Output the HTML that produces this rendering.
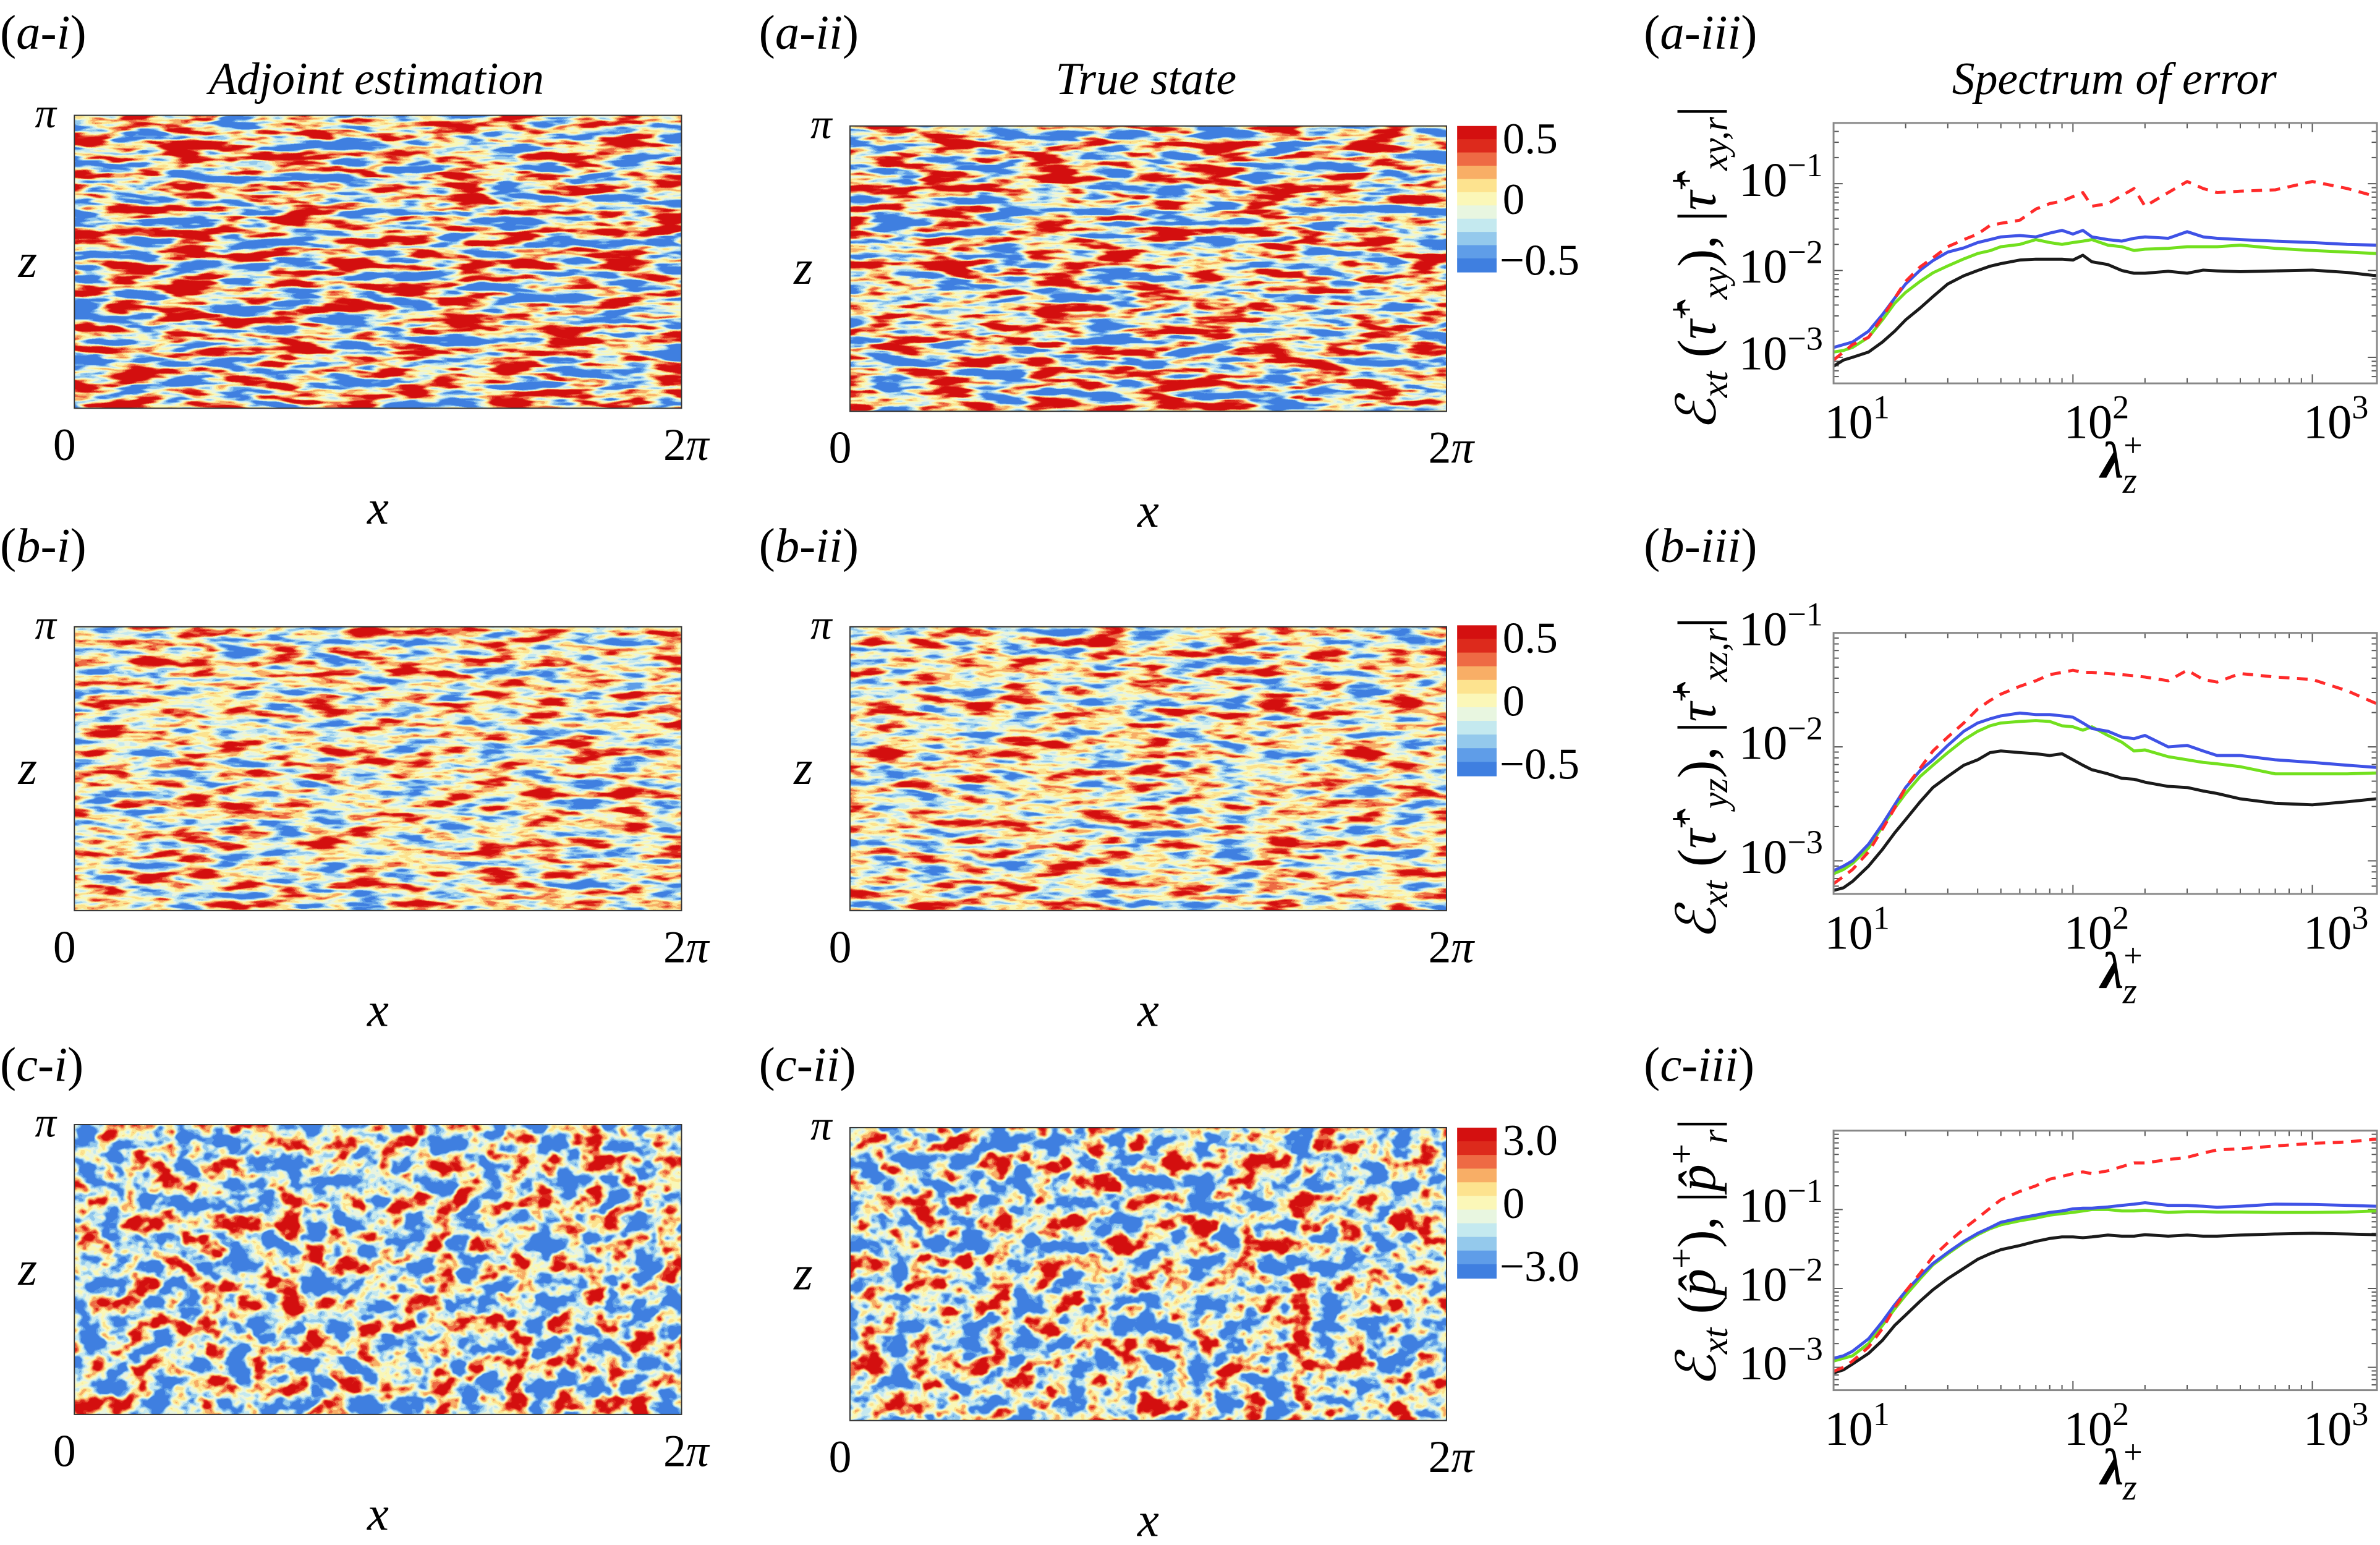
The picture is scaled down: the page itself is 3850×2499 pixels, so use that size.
<!DOCTYPE html>
<html><head><meta charset="utf-8"><style>
html,body{margin:0;padding:0;background:#fff;}
svg{display:block;}
svg text{font-family:"Liberation Serif","DejaVu Serif",serif;fill:#000;}
</style></head><body>
<svg id="fig" xmlns="http://www.w3.org/2000/svg" width="3850" height="2499" viewBox="0 0 1568 1018" preserveAspectRatio="none" font-family="Liberation Serif, serif">
<defs>
<filter id="fA" x="0" y="0" width="1" height="1" color-interpolation-filters="sRGB">
<feTurbulence type="fractalNoise" baseFrequency="0.028 0.14" numOctaves="3" seed="7"/>
<feColorMatrix type="matrix" values="3.2 0 0 0 -1.1  3.2 0 0 0 -1.1  3.2 0 0 0 -1.1  0 0 0 0 1"/>
<feComponentTransfer>
<feFuncR type="discrete" tableValues="0.25 0.37 0.58 0.77 0.91 0.98 0.99 0.97 0.93 0.87 0.83"/>
<feFuncG type="discrete" tableValues="0.50 0.62 0.79 0.91 0.96 0.97 0.89 0.68 0.42 0.16 0.06"/>
<feFuncB type="discrete" tableValues="0.88 0.91 0.93 0.94 0.88 0.72 0.56 0.40 0.27 0.11 0.06"/>
</feComponentTransfer></filter>
<filter id="fB" x="0" y="0" width="1" height="1" color-interpolation-filters="sRGB">
<feTurbulence type="fractalNoise" baseFrequency="0.035 0.15" numOctaves="3" seed="21"/>
<feColorMatrix type="matrix" values="2.1 0 0 0 -0.55  2.1 0 0 0 -0.55  2.1 0 0 0 -0.55  0 0 0 0 1"/>
<feComponentTransfer>
<feFuncR type="discrete" tableValues="0.25 0.37 0.58 0.77 0.91 0.98 0.99 0.97 0.93 0.87 0.83"/>
<feFuncG type="discrete" tableValues="0.50 0.62 0.79 0.91 0.96 0.97 0.89 0.68 0.42 0.16 0.06"/>
<feFuncB type="discrete" tableValues="0.88 0.91 0.93 0.94 0.88 0.72 0.56 0.40 0.27 0.11 0.06"/>
</feComponentTransfer></filter>
<filter id="fC" x="0" y="0" width="1" height="1" color-interpolation-filters="sRGB">
<feTurbulence type="fractalNoise" baseFrequency="0.06 0.075" numOctaves="3" seed="42"/>
<feColorMatrix type="matrix" values="2.7 0 0 0 -0.95  2.7 0 0 0 -0.95  2.7 0 0 0 -0.95  0 0 0 0 1"/>
<feComponentTransfer>
<feFuncR type="discrete" tableValues="0.25 0.37 0.58 0.77 0.91 0.98 0.99 0.97 0.93 0.87 0.83"/>
<feFuncG type="discrete" tableValues="0.50 0.62 0.79 0.91 0.96 0.97 0.89 0.68 0.42 0.16 0.06"/>
<feFuncB type="discrete" tableValues="0.88 0.91 0.93 0.94 0.88 0.72 0.56 0.40 0.27 0.11 0.06"/>
</feComponentTransfer></filter>
</defs>
<g id="fields"></g>
<g id="lines"></g>
</svg>
<script>
// ---- chart data ----
const lambdas = [10,11,12,14,16,18,20,23,26,30,35,40,45,50,60,70,80,90,100,110,120,140,160,180,200,250,300,350,400,500,700,1000,1400,1850];
const xTickLabels = ["1","2","3"];
const yTickExpA = ["\u22121","\u22122","\u22123"];
const yTickExpC = ["\u22121","\u22122","\u22123"];
const aBlack = [0.00079,0.00093,0.001,0.00115,0.0015,0.002,0.0027,0.0037,0.005,0.007,0.0087,0.010,0.0112,0.012,0.0132,0.0135,0.0135,0.0135,0.0132,0.015,0.0126,0.0117,0.010,0.0093,0.0093,0.0098,0.0093,0.0101,0.0099,0.0097,0.0099,0.0101,0.0095,0.0087];
const aGreen = [0.00115,0.0012,0.0013,0.0017,0.0027,0.0042,0.0056,0.0075,0.0094,0.0113,0.0136,0.0157,0.0169,0.0188,0.02,0.0227,0.021,0.02,0.021,0.0218,0.0227,0.0196,0.0188,0.017,0.0176,0.018,0.0188,0.0188,0.0188,0.0196,0.018,0.017,0.0163,0.0157];
const aBlue = [0.0013,0.0014,0.0015,0.002,0.0031,0.0048,0.007,0.0101,0.013,0.0163,0.0182,0.021,0.0227,0.0244,0.0253,0.0244,0.027,0.029,0.0263,0.029,0.0244,0.0227,0.0218,0.0235,0.0244,0.0235,0.028,0.0244,0.0235,0.0227,0.0218,0.021,0.02,0.0196];
const aRed = [0.00093,0.00115,0.0014,0.0017,0.0029,0.0048,0.0075,0.011,0.014,0.0188,0.0227,0.0263,0.033,0.035,0.038,0.051,0.059,0.063,0.071,0.079,0.055,0.059,0.073,0.088,0.055,0.079,0.106,0.088,0.079,0.082,0.085,0.106,0.088,0.071];
const bBlack = [0.00055,0.00058,0.00066,0.0009,0.00126,0.00176,0.0023,0.0033,0.0044,0.0055,0.0069,0.0077,0.0089,0.0092,0.0089,0.0087,0.0084,0.0087,0.0077,0.0069,0.0063,0.0058,0.0053,0.0052,0.0049,0.0045,0.0044,0.0041,0.0039,0.0035,0.0032,0.0031,0.0033,0.0035];
const bGreen = [0.00077,0.00084,0.00095,0.0013,0.002,0.0029,0.0039,0.0055,0.0069,0.0089,0.0115,0.0137,0.0153,0.0162,0.0167,0.017,0.0167,0.0153,0.015,0.014,0.015,0.0126,0.011,0.0092,0.0094,0.0082,0.0077,0.0073,0.0071,0.0067,0.0058,0.0058,0.0058,0.0059];
const bBlue = [0.00082,0.0009,0.001,0.0014,0.0021,0.0031,0.0044,0.0062,0.0077,0.0103,0.0137,0.0162,0.0176,0.0187,0.0198,0.0192,0.0192,0.0187,0.0182,0.0162,0.0145,0.0137,0.0122,0.0118,0.0126,0.01,0.0103,0.0092,0.0084,0.0084,0.0077,0.0073,0.0069,0.0066];
const bRed = [0.00063,0.00073,0.00084,0.0012,0.0019,0.0029,0.0044,0.0065,0.0092,0.0122,0.0162,0.0215,0.0255,0.029,0.034,0.038,0.043,0.045,0.047,0.045,0.045,0.044,0.043,0.042,0.041,0.038,0.047,0.039,0.037,0.044,0.041,0.039,0.031,0.024];
const cBlack = [0.00085,0.00093,0.0011,0.0015,0.0022,0.0034,0.0046,0.0069,0.0096,0.0133,0.018,0.0234,0.0275,0.031,0.035,0.0395,0.043,0.045,0.045,0.044,0.045,0.0475,0.046,0.046,0.048,0.046,0.0475,0.046,0.046,0.0475,0.049,0.050,0.049,0.048];
const cGreen = [0.0012,0.0013,0.0014,0.002,0.0034,0.0055,0.0082,0.0133,0.0199,0.0275,0.038,0.048,0.057,0.064,0.072,0.078,0.085,0.089,0.092,0.096,0.1,0.1,0.096,0.096,0.098,0.092,0.094,0.094,0.093,0.093,0.092,0.092,0.093,0.096];
const cBlue = [0.0013,0.0014,0.0016,0.0023,0.0038,0.0062,0.0092,0.0144,0.0207,0.0286,0.0395,0.05,0.059,0.069,0.078,0.085,0.092,0.096,0.102,0.104,0.104,0.108,0.113,0.117,0.122,0.113,0.113,0.11,0.107,0.11,0.117,0.116,0.113,0.11];
const cRed = [0.00089,0.001,0.0012,0.0018,0.0031,0.0057,0.0092,0.0156,0.0253,0.038,0.057,0.078,0.104,0.133,0.17,0.2,0.243,0.263,0.285,0.3,0.285,0.31,0.35,0.39,0.39,0.43,0.46,0.52,0.57,0.59,0.64,0.69,0.72,0.78];

const NS = "http://www.w3.org/2000/svg";
const svg = document.getElementById('fig');
const F = document.getElementById('fields');
const L = document.getElementById('lines');
function mk(tag, attrs, parent){ const e=document.createElementNS(NS,tag); for(const k in attrs) e.setAttribute(k,attrs[k]); (parent||svg).appendChild(e); return e; }
function txt(parent, x, y, s, size, italic, anchor){ const t=mk('text',{x:x,y:y,'font-size':size,'text-anchor':anchor||'start'},parent); if(italic) t.setAttribute('font-style','italic'); t.textContent=s; return t; }

// ---- field panels ----
const rows = [
 {tag:'a', filt:'fA', y0:[76,83], y1:[269,271], cb:['0.5','0','\u22120.5'], cbY:[83,179]},
 {tag:'b', filt:'fB', y0:[413,413], y1:[600,600], cb:['0.5','0','\u22120.5'], cbY:[412,511]},
 {tag:'c', filt:'fC', y0:[741,743], y1:[932,936], cb:['3.0','0','\u22123.0'], cbY:[743,842]}
];
const cols = [{x0:49,x1:449,lab:'i'},{x0:560,x1:953,lab:'ii'}];
const cbColors = ['#d41010','#dd2a1c','#ee6a44','#f8ae66','#fde38f','#fbf7b8','#e8f6e0','#c4e9ef','#94c9ec','#5f9de8','#3f7fe0'];
rows.forEach((r,ri)=>{
  cols.forEach((c,ci)=>{
    const g = mk('g',{},F);
    
    
    const y0=r.y0[ci], y1=r.y1[ci];
    const rect = mk('rect',{x:c.x0,y:y0,width:c.x1-c.x0,height:y1-y0,filter:'url(#'+r.filt+')',fill:'#fff'},g);
    
    
    mk('rect',{x:c.x0,y:y0,width:c.x1-c.x0,height:y1-y0,fill:'none',stroke:'#333','stroke-width':0.8},g);
    const pl = txt(g, c.x0-26, y0+8, '\u03c0', 28, true);
     
    const zl = txt(g, c.x0-37, (y0+y1)/2+10, 'z', 32, true);
     
    const z0 = txt(g, c.x0-14, y1+34, '0', 30);
     
    const x2 = txt(g, c.x1-12, y1+34, '2', 30);
    const pi2 = mk('tspan',{'font-style':'italic'},x2); pi2.textContent='\u03c0';
     
    const xl = txt(g, (c.x0+c.x1)/2, y1+76, 'x', 32, true, 'middle');
     
  });
  const cg = mk('g',{},F);
  
  
  const cx=960, cw=26, ct=r.cbY[0], cbh=r.cbY[1]-r.cbY[0];
  cbColors.forEach((col,i)=>{
    mk('rect',{x:cx,y:ct+i*cbh/cbColors.length,width:cw,height:cbh/cbColors.length+0.5,fill:col},cg);
  });
  const l1=txt(cg, cx+30, ct+18, r.cb[0], 29);  
  const l2=txt(cg, cx+30, ct+cbh/2+10, r.cb[1], 29);  
  const l3=txt(cg, cx+28, ct+cbh+2, r.cb[2], 29);  
});

const panelLabels = [['(a-i)',0,32],['(a-ii)',500,32],['(a-iii)',1083,32],['(b-i)',0,370],['(b-ii)',500,370],['(b-iii)',1083,370],['(c-i)',0,712],['(c-ii)',500,712],['(c-iii)',1083,712]];
panelLabels.forEach(p=>{
  const t = mk('text',{x:p[1],y:p[2],'font-size':32},svg);
  
  
  const a=mk('tspan',{},t); a.textContent='(';
  const b=mk('tspan',{'font-style':'italic'},t); b.textContent=p[0].slice(1,-1);
  const c=mk('tspan',{},t); c.textContent=')';
});
[['Adjoint estimation',248,62],['True state',755,62],['Spectrum of error',1393,62]].forEach(p=>{
  const t=txt(svg,p[1],p[2],p[0],30,true,'middle');
  
  
});

// ---- spectra ----
const specs = [
 {tag:'a', top:81, bot:252.6, ymin:-3.30, ymax:-0.30, series:[aBlack,aGreen,aBlue,aRed], ylab:['xy','xy,r']},
 {tag:'b', top:417, bot:589, ymin:-3.29, ymax:-1.0, series:[bBlack,bGreen,bBlue,bRed], ylab:['yz','xz,r']},
 {tag:'c', top:745, bot:916, ymin:-3.29, ymax:0.0, series:[cBlack,cGreen,cBlue,cRed], ylab:null}
];
const seriesStyle = [
 {name:'series-black', stroke:'#1a1a1a', dash:null},
 {name:'series-green', stroke:'#72e01e', dash:null},
 {name:'series-blue', stroke:'#3f52e6', dash:null},
 {name:'series-red-dashed', stroke:'#ff2a2a', dash:'7 5'}
];
const X0=1208, X1=1566, LX0=1, LX1=3.27;
function xS(l){ return X0 + (Math.log10(l)-LX0)/(LX1-LX0)*(X1-X0); }
specs.forEach(s=>{
  const g = mk('g',{},L);
  
  
  const yS = v => s.bot - (Math.log10(v)-s.ymin)/(s.ymax-s.ymin)*(s.bot-s.top);
  for(let d=1; d<=3; d++){
    for(let m=1; m<=9; m++){
      const l=m*Math.pow(10,d); if(Math.log10(l)>LX1) break;
      const x=xS(l), len = m===1?6:3.5;
      mk('line',{x1:x,y1:s.bot,x2:x,y2:s.bot-len,stroke:'#555','stroke-width':0.8},g);
      mk('line',{x1:x,y1:s.top,x2:x,y2:s.top+len,stroke:'#555','stroke-width':0.8},g);
    }
  }
  for(let d=-4; d<=0; d++){
    for(let m=1; m<=9; m++){
      const v=m*Math.pow(10,d); const lv=Math.log10(v);
      if(lv<s.ymin||lv>s.ymax) continue;
      const y=yS(v), len=m===1?6:3.5;
      mk('line',{x1:X0,y1:y,x2:X0+len,y2:y,stroke:'#555','stroke-width':0.8},g);
      mk('line',{x1:X1,y1:y,x2:X1-len,y2:y,stroke:'#555','stroke-width':0.8},g);
    }
  }
  s.series.forEach((arr,i)=>{
    let d='';
    arr.forEach((v,k)=>{ d += (k?'L':'M') + xS(lambdas[k]).toFixed(2)+','+yS(v).toFixed(2); });
    const p = mk('path',{d:d,fill:'none',stroke:seriesStyle[i].stroke,'stroke-width':2,'stroke-linejoin':'round'},g);
    if(seriesStyle[i].dash) p.setAttribute('stroke-dasharray',seriesStyle[i].dash);
    
    
  });
  const box = mk('rect',{x:X0,y:s.top,width:X1-X0,height:s.bot-s.top,fill:'none',stroke:'#888','stroke-width':1.2},g);
  
  
  xTickLabels.forEach((e,i)=>{
    const t = mk('text',{x:xS(Math.pow(10,i+1))-6,y:s.bot+36,'font-size':32},g);
    
    
    const a=mk('tspan',{},t); a.textContent='10';
    const b=mk('tspan',{dy:-13,'font-size':22},t); b.textContent=e;
  });
  const exps = s.tag==='c'?yTickExpC:yTickExpA;
  exps.forEach((e,i)=>{
    const v=Math.pow(10,-(i+1));
    const t = mk('text',{x:X0-7,y:yS(v)+8,'font-size':32,'text-anchor':'end'},g);
    
    
    const a=mk('tspan',{},t); a.textContent='10';
    const b=mk('tspan',{dy:-13,'font-size':22},t); b.textContent=e;
  });
  const xt = mk('text',{x:1384,y:s.bot+62,'font-size':34,'font-style':'italic','font-weight':'bold'},g);
  
  
  const xa=mk('tspan',{},xt); xa.textContent='\u03bb';
  const xb=mk('tspan',{dy:-14,'font-size':22,'font-style':'normal','font-weight':'normal'},xt); xb.textContent='+';
  const xc=mk('tspan',{dy:24,dx:-13,'font-size':24,'font-weight':'normal'},xt); xc.textContent='z';
  const cy=(s.top+s.bot)/2+ (s.tag==='c'?-5:10);
  const yt = mk('text',{x:0,y:0,'font-size':36,'text-anchor':'middle',transform:'translate(1130,'+cy+') rotate(-90)'},g);
  
  
  const small = new Set(['+','xt','r']);
  if(s.ylab){ small.add(s.ylab[0]); small.add(s.ylab[1]); }
  const parts = s.ylab ? [['\u2130',1,0],['xt',1,8],[' (',0,-8],['\u03c4\u0302',1,0],['+',0,-14],[s.ylab[0],1,22],['), |',0,-8],['\u03c4\u0302',1,0],['+',0,-14],[s.ylab[1],1,22],['|',0,-8]]
                       : [['\u2130',1,0],['xt',1,8],[' (',0,-8],['p\u0302',1,0],['+',0,-14],['), |',0,14],['p\u0302',1,0],['+',0,-14],['r',1,22],['|',0,-8]];
  parts.forEach(pp=>{
    const ts = mk('tspan',{dy:pp[2]},yt);
    if(pp[1]) ts.setAttribute('font-style','italic');
    if(small.has(pp[0])) ts.setAttribute('font-size',24);
    ts.textContent=pp[0];
  });
});
</script>
</body></html>
